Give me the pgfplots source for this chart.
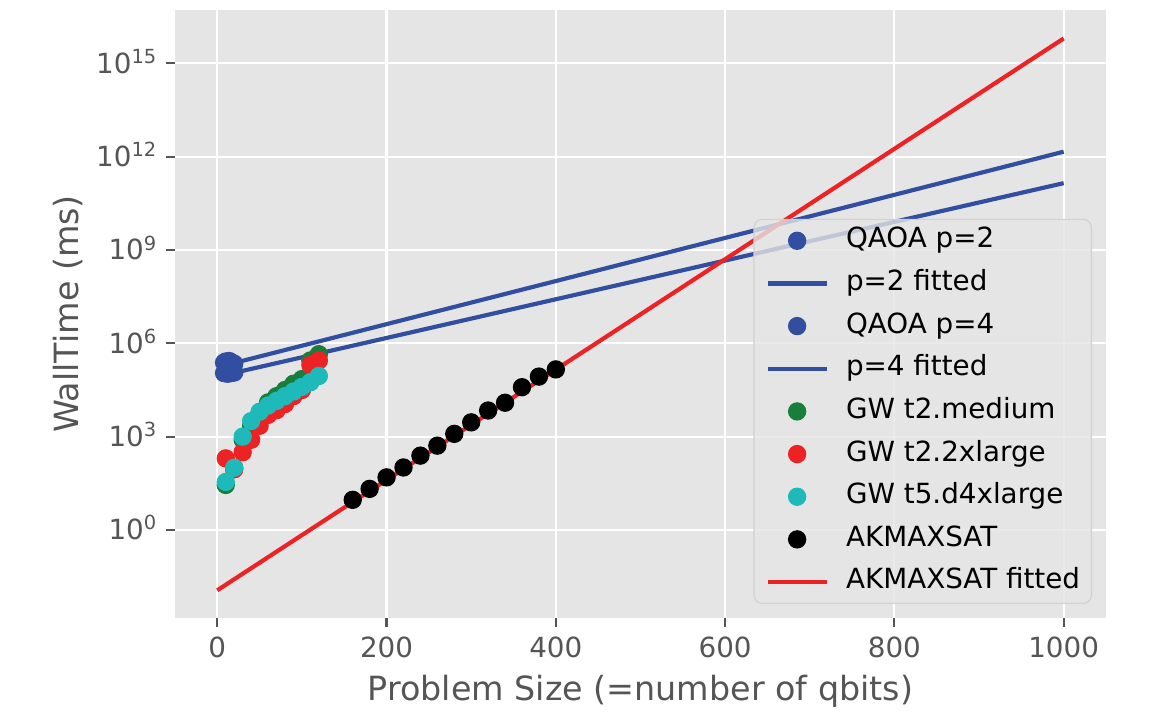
\documentclass[border=0pt]{standalone}
\usepackage{fontspec}
\setmainfont{DejaVu Sans}
\usepackage{pgfplots}
\pgfplotsset{compat=1.18}
\definecolor{bg}{HTML}{E5E5E5}
\definecolor{tk}{HTML}{555555}
\definecolor{qblue}{RGB}{50,78,160}
\definecolor{gwgreen}{RGB}{25,125,60}
\definecolor{gwred}{RGB}{236,34,36}
\definecolor{gwcyan}{RGB}{30,185,185}
\newcommand{\tp}[1]{10\raisebox{3.6pt}{\fontsize{7}{8}\selectfont #1}}
\begin{document}
\begin{tikzpicture}
\begin{axis}[
  scale only axis, width=335.2pt, height=218.9pt,
  xmin=-50, xmax=1050,
  ymode=log, ymin=1.48e-3, ymax=5.2e16,
  axis background/.style={fill=bg},
  axis line style={draw=none},
  grid=major, major grid style={white, line width=0.8pt},
  xtick={0,200,400,600,800,1000},
  xticklabels={0,200,400,600,800,1000},
  ytick={1,1e3,1e6,1e9,1e12,1e15},
  yticklabels={\tp{0},\tp{3},\tp{6},\tp{9},\tp{12},\tp{15}},
  yminorticks=false, xminorticks=false,
  tick align=outside, xtick pos=left, ytick pos=left,
  major tick length=3.2pt,
  tick style={tk, line width=0.8pt},
  ticklabel style={font=\fontsize{10}{12}\selectfont, text=tk},
  /pgf/number format/assume math mode=true,
  yticklabel style={anchor=base east, yshift=-3.6pt},
  xlabel={Problem Size (=number of qbits)},
  ylabel={WallTime (ms)},
  label style={font=\fontsize{12}{14}\selectfont, text=tk},
  xlabel style={at={([yshift=-26.3pt]rel axis cs:0.5,0)}, anchor=center},
  ylabel style={at={([xshift=-38.5pt]rel axis cs:0,0.5)}, anchor=center},
  legend style={at={(0.985,0.023)}, anchor=south east, fill=bg, fill opacity=0.8,
    draw=black!18, draw opacity=1, text opacity=1, rounded corners=3pt,
    font=\fontsize{10}{12}\selectfont, text=black,
    inner xsep=4.1pt, inner ysep=2.7pt, row sep=5.36pt,
    nodes={inner xsep=0pt, inner ysep=0pt, text height=7.5pt, text depth=2.5pt},
    /tikz/every odd column/.append style={column sep=6.2pt}},
  legend cell align=left,
  legend image post style={fill opacity=1},
  legend image code/.code={\draw[mark repeat=2,mark phase=2,#1] plot coordinates {(0cm,0cm) (0.375cm,0cm) (0.75cm,0cm)};},
  mark size=3.1pt,
]
% QAOA p=2
\addplot[only marks, mark=*, qblue, mark options={draw=qblue, fill=qblue}] coordinates {
 (8,2.4e5) (10,2.6e5) (12,2.5e5) (14,2.7e5) (16,2.5e5) (18,2.3e5) (20,2.2e5)};
\addlegendentry{QAOA p=2}
\addplot[qblue, line width=1.5pt, no marks] coordinates {(8,1.93e5) (1000,1.445e12)};
\addlegendentry{p=2 fitted}
% QAOA p=4
\addplot[only marks, mark=*, qblue, mark options={draw=qblue, fill=qblue}] coordinates {
 (8,1.1e5) (10,1.2e5) (12,1.05e5) (14,1.15e5) (16,1.1e5) (18,1.2e5) (20,1.15e5)};
\addlegendentry{QAOA p=4}
\addplot[qblue, line width=1.5pt, no marks] coordinates {(8,9.5e4) (1000,1.41e11)};
\addlegendentry{p=4 fitted}
% GW t2.medium
\addplot[only marks, mark=*, gwgreen, mark options={draw=gwgreen, fill=gwgreen}] coordinates {
 (10,28) (20,100) (30,794) (40,2240) (50,5620) (60,12600) (70,20000) (80,31600)
 (90,50100) (100,70800) (110,282000) (120,447000)};
\addlegendentry{GW t2.medium}
% GW t2.2xlarge
\addplot[only marks, mark=*, gwred, mark options={draw=gwred, fill=gwred}] coordinates {
 (10,200) (20,89) (30,316) (40,794) (50,2240) (60,5010) (70,7080) (80,11200)
 (90,20000) (100,31600) (110,200000) (120,282000)};
\addlegendentry{GW t2.2xlarge}
% GW t5.d4xlarge
\addplot[only marks, mark=*, gwcyan, mark options={draw=gwcyan, fill=gwcyan}] coordinates {
 (10,35) (20,100) (30,1000) (40,3160) (50,6310) (60,10000) (70,14100) (80,20000)
 (90,28200) (100,39800) (110,56200) (120,89100)};
\addlegendentry{GW t5.d4xlarge}
% AKMAXSAT
\addplot[only marks, mark=*, black, mark options={draw=black, fill=black}] coordinates {
 (160,9.3) (180,20.9) (200,49) (220,102) (240,245) (260,513) (280,1230) (300,2880)
 (320,6920) (340,12300) (360,38900) (380,85100) (400,145000)};
\addlegendentry{AKMAXSAT}
\addplot[gwred, line width=1.5pt, no marks] coordinates {(0,0.01148) (1000,6.31e15)};
\addlegendentry{AKMAXSAT fitted}
\end{axis}
\pgfresetboundingbox
\path[use as bounding box] ([shift={(-63pt,-34.6pt)}]current axis.south west) rectangle ([shift={(15.5pt,3.6pt)}]current axis.north east);
\end{tikzpicture}
\end{document}
